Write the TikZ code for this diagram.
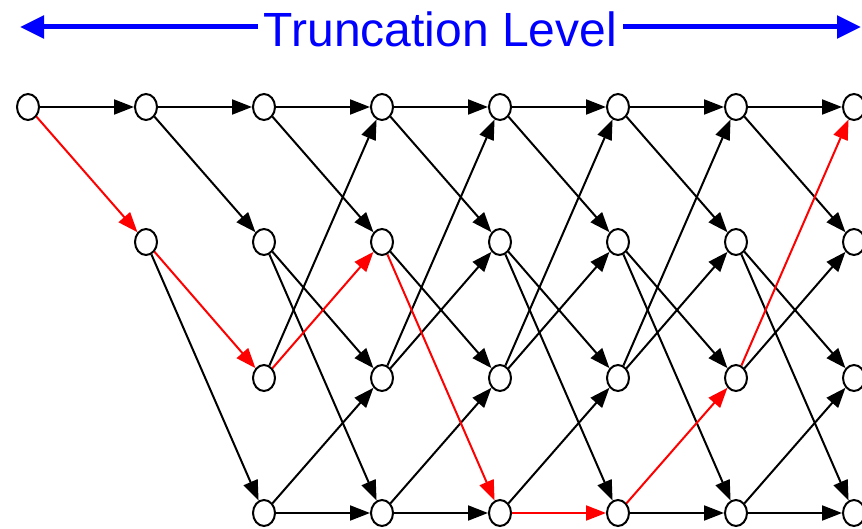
\documentclass[tikz,border=0pt]{standalone}
\usepackage{fontspec}
\setmainfont{Liberation Sans}
\usetikzlibrary{arrows.meta,shapes.geometric}

\begin{document}
\begin{tikzpicture}[x=1pt,y=-1pt,
  state/.style={draw,ellipse,line width=2pt,fill=white,inner sep=0pt,minimum width=22pt,minimum height=26pt},
  branch/.style={line width=2pt,-{Triangle[length=20pt,width=15pt]}},
  trunc/.style={blue,line width=5pt,-{Triangle[length=24pt,width=22pt]}}]
  \useasboundingbox (0,0) rectangle (862,529);
  % Title
  \node[blue,font=\fontsize{48}{50}\selectfont,anchor=base,inner xsep=6pt,inner ysep=0pt] (title) at (440.5,47) {Truncation Level};
  \coordinate (tl) at (20,27);
  \coordinate (tr) at (861,27);
  \draw[trunc] (title.west |- tl) -- (tl);
  \draw[trunc] (title.east |- tr) -- (tr);
  % States
  \node[state] (s00) at (28,107) {};
  \node[state] (s10) at (146,107) {};
  \node[state] (s11) at (146,242) {};
  \foreach \r/\y in {0/107,1/242,2/378,3/513}
    \foreach \c in {2,...,7}
      \node[state] (s\c\r) at ({28+118*\c},\y) {};
  % Branches
  \foreach \a/\b in {s00/s10,
      s10/s20,s10/s21,s11/s23,
      s20/s30,s20/s31,s21/s32,s21/s33,s22/s30,s23/s32,s23/s33,
      s30/s40,s30/s41,s31/s42,s32/s40,s32/s41,s33/s42,s33/s43,
      s40/s50,s40/s51,s41/s52,s41/s53,s42/s50,s42/s51,s43/s52,
      s50/s60,s50/s61,s51/s62,s51/s63,s52/s60,s52/s61,s53/s63,
      s60/s70,s60/s71,s61/s72,s61/s73,s62/s71,s63/s72,s63/s73}
    \draw[branch] (\a) -- (\b);
  % Survivor path
  \foreach \a/\b in {s00/s11,s11/s22,s22/s31,s31/s43,s43/s53,s53/s62,s62/s70}
    \draw[branch,red] (\a) -- (\b);
\end{tikzpicture}
\end{document}
